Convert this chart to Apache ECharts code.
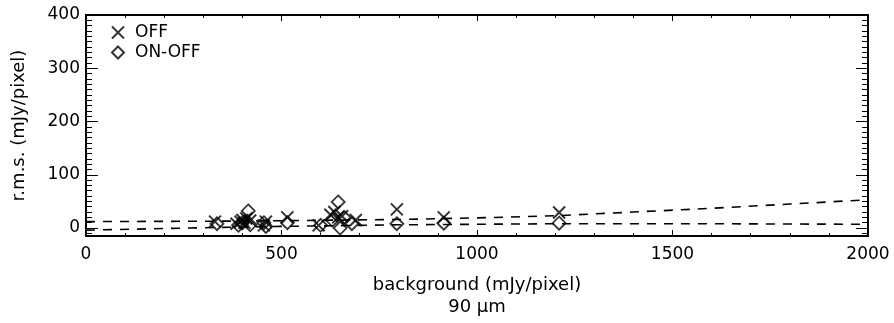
<!DOCTYPE html>
<html style="height: 100%">
<head>
<meta charset="utf-8">
<title>rms vs background</title>
<style>
  html, body { margin: 0; padding: 0; background: #fff; }
  #chart { width: 894px; height: 323px; }
</style>
</head>
<body>
<div id="chart"></div>
<script src="https://cdn.jsdelivr.net/npm/echarts@6/dist/echarts.min.js"></script>
<script type="text/javascript">
// OFF points (x = background, y = r.m.s.)
var offX = [330, 385, 395, 400, 405, 410, 420, 455, 460, 515, 595, 625, 635, 645, 655, 690, 795, 915, 1210];
var offY = [12, 8, 12, 15, 10, 18, 14, 5, 12, 20, 5, 25, 30, 20, 22, 15, 35, 20, 29];
// ON-OFF points
var onX = [335, 390, 400, 415, 420, 455, 460, 515, 600, 630, 645, 650, 660, 680, 795, 915, 1210];
var onY = [8, 5, 10, 32, 6, 10, 3, 10, 5, 15, 49, 0, 20, 8, 8, 9, 9];
// dashed fit curves
var fitOffX = [0, 400, 800, 1000, 1200, 1400, 1600, 1800, 2000];
var fitOffY = [12, 13, 16, 19, 23, 30, 37, 45, 53];
var fitOnX = [0, 400, 800, 1200, 1600, 2000];
var fitOnY = [-4, 2, 6, 8, 8, 7];
// tick values
var yMajor = [0, 100, 200, 300, 400];
var yMinor = [];
for (var v = -10; v < 400; v += 10) { if (v % 100 != 0) yMinor.push(v); }

function pairs(xs, ys) {
  var out = [];
  for (var i = 0; i < xs.length; i++) out.push([xs[i], ys[i]]);
  return out;
}

var FONT = 'DejaVu Sans';
var crossPath = 'path://M0,0L10,10M0,10L10,0';
var diamondPath = 'path://M5,0L10,5L5,10L0,5Z';

var myChart = echarts.init(document.getElementById('chart'), null, { renderer: 'canvas' });

function yAx(pos, ticks, len, labels) {
  return {
    type: 'value', position: pos, min: -15, max: 400,
    axisLine: { show: true, lineStyle: { color: '#000', width: 1.8 } },
    axisTick: { show: true, inside: true, length: len, customValues: ticks, lineStyle: { color: '#000', width: 1 } },
    axisLabel: labels ? { show: true, customValues: ticks, color: '#000', fontFamily: FONT, fontSize: 17, margin: 6 } : { show: false },
    splitLine: { show: false }
  };
}

var yLeft = yAx('left', yMajor, 12, true);
yLeft.name = 'r.m.s. (mJy/pixel)';
yLeft.nameLocation = 'middle';
yLeft.nameGap = 58;
yLeft.nameTextStyle = { color: '#000', fontFamily: FONT, fontSize: 18 };

var option = {
  animation: false,
  backgroundColor: '#fff',
  grid: { left: 86, right: 26, top: 15, bottom: 86, containLabel: false },
  legend: {
    left: 106, top: 19, orient: 'vertical', itemGap: 3,
    itemWidth: 24, itemHeight: 12,
    textStyle: { color: '#000', fontFamily: FONT, fontSize: 17 },
    data: ['OFF', 'ON-OFF']
  },
  xAxis: [{
    type: 'value', position: 'bottom', min: 0, max: 2000, interval: 500,
    name: 'background (mJy/pixel)\n90 \u03bcm',
    nameLocation: 'middle', nameGap: 38,
    nameTextStyle: { color: '#000', fontFamily: FONT, fontSize: 18, lineHeight: 22 },
    axisLine: { show: true, onZero: false, lineStyle: { color: '#000', width: 1.8 } },
    axisTick: { show: true, inside: true, length: 6, lineStyle: { color: '#000' } },
    minorTick: { show: true, splitNumber: 5, length: 3, lineStyle: { color: '#000' } },
    axisLabel: { color: '#000', fontFamily: FONT, fontSize: 17, margin: 10, formatter: function (v) { return String(v); } },
    splitLine: { show: false }
  }, {
    type: 'value', position: 'top', min: 0, max: 2000, interval: 500,
    axisLine: { show: true, onZero: false, lineStyle: { color: '#000', width: 1.8 } },
    axisTick: { show: true, inside: true, length: 6, lineStyle: { color: '#000' } },
    minorTick: { show: true, splitNumber: 5, length: 3, lineStyle: { color: '#000' } },
    axisLabel: { show: false },
    splitLine: { show: false }
  }],
  yAxis: [
    yLeft,
    yAx('left', yMinor, 6, false),
    yAx('right', yMajor, 12, false),
    yAx('right', yMinor, 6, false)
  ],
  series: [{
    name: 'fitOff', type: 'line', xAxisIndex: 0, yAxisIndex: 0,
    data: pairs(fitOffX, fitOffY), showSymbol: false, symbol: 'none', silent: true,
    lineStyle: { color: '#000', width: 1.6, type: [9, 8] }
  }, {
    name: 'fitOn', type: 'line', xAxisIndex: 0, yAxisIndex: 0,
    data: pairs(fitOnX, fitOnY), showSymbol: false, symbol: 'none', silent: true,
    lineStyle: { color: '#000', width: 1.6, type: [9, 8] }
  }, {
    name: 'OFF', type: 'scatter', xAxisIndex: 0, yAxisIndex: 0,
    symbol: crossPath, symbolSize: 12,
    itemStyle: { color: 'rgba(0,0,0,0)', borderColor: '#000', borderWidth: 2 },
    data: pairs(offX, offY)
  }, {
    name: 'ON-OFF', type: 'scatter', xAxisIndex: 0, yAxisIndex: 0,
    symbol: diamondPath, symbolSize: 13,
    itemStyle: { color: 'rgba(0,0,0,0)', borderColor: '#000', borderWidth: 1.8 },
    data: pairs(onX, onY)
  }]
};
myChart.setOption(option);
</script>
</body>
</html>
